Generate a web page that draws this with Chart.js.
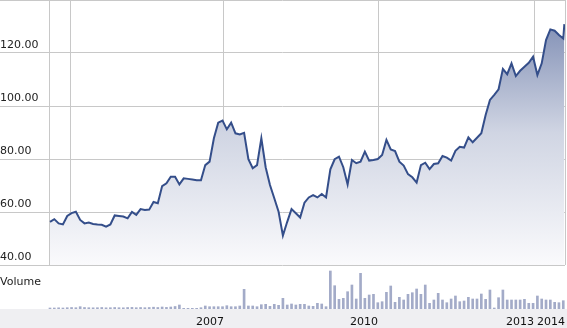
<!DOCTYPE html>
<html>
<head>
<meta charset="utf-8">
<script src="https://cdn.jsdelivr.net/npm/chart.js@4.4.1/dist/chart.umd.min.js"></script>
<style>
    body { margin: 0; background: #ffffff; }
    #wrap { position: relative; width: 567px; height: 328px; overflow: hidden; }
    #priceChart { position: absolute; left: 0; top: 0; }
    #volumeChart { position: absolute; left: 0; top: 266px; }
    #volLabel {
        position: absolute; left: 0; top: 275px;
        font: 11px "DejaVu Sans", Verdana, sans-serif; line-height: 13px; color: #222;
    }
</style>
</head>
<body>
<div id="wrap">
    <canvas id="priceChart" width="567" height="266"></canvas>
    <canvas id="volumeChart" width="567" height="62"></canvas>
    <div id="volLabel">Volume</div>
</div>

<script>
/* ==========================================
   DATA (monthly)
========================================== */

// Closing price per month
const closes = [
    56.3, 57.3, 55.7, 55.3, 58.5, 59.6, 60.1, 57.0, 55.7, 56.0,
    55.5, 55.3, 55.2, 54.5, 55.3, 58.7, 58.5, 58.3, 57.6, 60.0,
    58.9, 61.1, 60.8, 60.9, 63.8, 63.3, 69.8, 70.8, 73.3, 73.3,
    70.4, 72.7, 72.5, 72.3, 72.0, 72.0, 77.7, 79.0, 87.8, 93.7,
    94.5, 91.2, 93.7, 89.7, 89.3, 89.9, 79.9, 76.5, 77.7, 87.8,
    76.9, 70.2, 65.2, 60.1, 51.1, 56.3, 61.1, 59.5, 57.9, 63.5,
    65.5, 66.4, 65.5, 66.8, 65.5, 76.1, 79.9, 80.9, 76.9, 70.4,
    79.6, 78.4, 79.0, 82.8, 79.4, 79.6, 80.0, 81.5, 87.2, 83.6,
    83.0, 79.0, 77.5, 74.3, 73.1, 71.1, 77.7, 78.6, 76.2, 78.1,
    78.4, 81.1, 80.5, 79.4, 83.1, 84.6, 84.3, 88.2, 86.3, 88.0,
    89.7, 96.6, 102.3, 104.2, 106.3, 114.0, 112.0, 116.1, 111.3, 113.3,
    114.8, 116.3, 118.6, 111.7, 116.1, 124.9, 128.9, 128.4, 126.8, 125.5,
    130.9
];

// Volume per month (relative units)
const volumes = [
    1.0, 1.0, 1.2, 1.0, 1.3, 1.5, 1.3, 2.3, 1.5, 1.3,
    1.2, 1.3, 1.5, 1.2, 1.3, 1.5, 1.3, 1.2, 1.5, 1.6,
    1.3, 1.5, 1.3, 1.5, 1.8, 1.5, 2.0, 1.6, 2.0, 2.5,
    4.0, 0.7, 0.7, 0.7, 0.7, 1.3, 3.0, 2.3, 2.3, 2.3,
    2.3, 3.3, 2.3, 2.3, 3.0, 19.7, 3.0, 3.0, 2.3, 4.3,
    4.7, 2.7, 4.7, 3.7, 10.7, 4.0, 5.0, 4.0, 4.7, 4.7,
    3.0, 2.7, 5.7, 5.0, 2.3, 38.0, 23.3, 9.7, 10.7, 17.3,
    24.0, 10.0, 35.7, 10.7, 14.0, 14.7, 6.3, 7.3, 16.7, 23.0,
    6.7, 11.7, 9.0, 14.7, 16.3, 20.0, 14.7, 24.0, 5.7, 9.0,
    15.7, 9.0, 6.3, 10.0, 13.0, 7.3, 8.0, 11.7, 10.0, 10.0,
    15.0, 9.7, 19.0, 1.0, 11.3, 19.0, 9.0, 9.0, 9.0, 9.0,
    9.7, 5.7, 5.7, 13.0, 10.0, 9.0, 9.0, 6.7, 6.3, 8.3
];

// The last close is a partial month
const lastCloseAt = 119.25;

// Axis ranges (month index)
const monthMin = -11.59;
const monthMax = 119.40;

// Vertical grid lines and year labels
const gridAt = [0, 4.64, 40.34, 76.05, 112.22, 119.40];
const yearLabels = ["", "", "2007", "2010", "2013", "2014"];

// Price axis
const priceMin = 40;
const priceMax = 140;
const priceStep = 20;


/* ==========================================
   PRICE CHART
========================================== */

const pricePoints = closes.map((v, i) => ({
    x: i < closes.length - 1 ? i : lastCloseAt,
    y: v
}));

const volumePoints = volumes.map((v, i) => ({ x: i, y: v }));

const fontFamily = "'DejaVu Sans', Verdana, sans-serif";

function setYearTicks(scale) {
    scale.ticks = gridAt.map(v => ({ value: v }));
}

// price labels sit inside the plot, just above their grid line
const priceLabelPlugin = {
    id: "priceLabels",
    afterDraw(chart) {
        const { ctx } = chart;
        const y = chart.scales.y;
        ctx.save();
        ctx.font = "11px " + fontFamily;
        ctx.fillStyle = "#222";
        ctx.textAlign = "left";
        ctx.textBaseline = "middle";
        y.ticks.forEach(t => {
            if (t.value === priceMax) return;
            ctx.fillText(t.value.toFixed(2), 0, y.getPixelForValue(t.value) - 8);
        });
        ctx.restore();
    }
};

new Chart(document.getElementById("priceChart"), {

    type: "line",

    data: {
        datasets: [{
            data: pricePoints,
            borderColor: "#344e8a",
            borderWidth: 2,
            pointRadius: 0,
            tension: 0,
            fill: "start",
            backgroundColor: (ctx) => {
                const area = ctx.chart.chartArea;
                if (!area) return "rgba(0,0,0,0)";
                const g = ctx.chart.ctx.createLinearGradient(0, area.top, 0, area.bottom);
                g.addColorStop(0, "#7383ad");
                g.addColorStop(0.5, "#d0d5e3");
                g.addColorStop(1, "#fafafc");
                return g;
            }
        }]
    },

    options: {
        responsive: false,
        animation: false,
        events: [],
        layout: {
            autoPadding: false,
            padding: { top: 0, right: 2, bottom: 1, left: 0 }
        },
        plugins: {
            legend: { display: false },
            tooltip: { enabled: false }
        },
        scales: {
            x: {
                type: "linear",
                min: monthMin,
                max: monthMax,
                afterBuildTicks: setYearTicks,
                ticks: { display: false },
                grid: { color: "#c8c8c8", drawTicks: false },
                border: { display: false }
            },
            y: {
                min: priceMin,
                max: priceMax,
                ticks: { stepSize: priceStep, display: false },
                grid: { color: "#c8c8c8", drawTicks: false },
                border: { display: false }
            }
        }
    },

    plugins: [priceLabelPlugin]

});


/* ==========================================
   VOLUME CHART
========================================== */

const bandPlugin = {
    id: "band",
    beforeDraw(chart) {
        const { ctx, chartArea, width, height } = chart;
        ctx.save();
        ctx.fillStyle = "#efeff2";
        ctx.fillRect(0, chartArea.bottom, width, height - chartArea.bottom);
        ctx.restore();
    }
};

new Chart(document.getElementById("volumeChart"), {

    type: "bar",

    data: {
        datasets: [{
            data: volumePoints,
            backgroundColor: "#a3abc8",
            barThickness: 2
        }]
    },

    options: {
        responsive: false,
        animation: false,
        events: [],
        layout: {
            autoPadding: false,
            padding: { top: 0, right: 2, bottom: 0, left: 0 }
        },
        plugins: {
            legend: { display: false },
            tooltip: { enabled: false }
        },
        scales: {
            x: {
                type: "linear",
                min: monthMin,
                max: monthMax,
                offset: false,
                afterBuildTicks: setYearTicks,
                afterFit: (scale) => { scale.height = 19; },
                ticks: {
                    autoSkip: false,
                    maxRotation: 0,
                    align: "end",
                    padding: -1,
                    color: "#111",
                    font: { family: fontFamily, size: 11 },
                    callback: (v, i) => yearLabels[i]
                },
                grid: { display: false },
                border: { display: false }
            },
            y: {
                display: false,
                min: 0,
                max: 43
            }
        }
    },

    plugins: [bandPlugin]

});
</script>
</body>
</html>
